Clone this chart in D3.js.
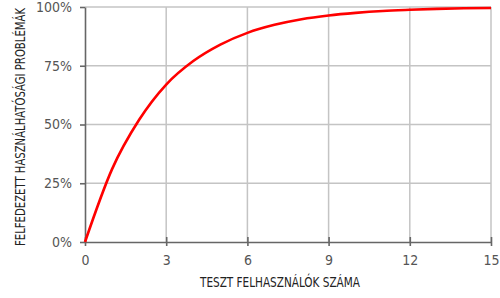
<!DOCTYPE html>
<html>
<head>
<meta charset="utf-8">
<script src="https://cdn.jsdelivr.net/npm/d3@7"></script>
<style>
  html, body { margin: 0; padding: 0; background: #fff; }
  svg { display: block; }
  .lbl { font-family: "Liberation Sans Narrow", "DejaVu Sans Condensed", "Arial Narrow", sans-serif; }
</style>
</head>
<body>
<svg id="chart" width="500" height="298"></svg>
<script>
const users = [0, 1, 2, 3, 4, 5, 6, 7, 8, 9, 10, 11, 12, 13, 14, 15]
const found = [0, 31, 52, 67, 77, 84, 89, 92.4, 94.8, 96.4, 97.5, 98.3, 98.8, 99.2, 99.45, 99.6]
const xTicks = [0, 3, 6, 9, 12, 15]
const yTicks = [0, 25, 50, 75, 100]
const xTitle = "TESZT FELHASZNÁLÓK SZÁMA"
const yTitle = "FELFEDEZETT HASZNÁLHATÓSÁGI PROBLÉMÁK"

const svg = d3.select("#chart")
const margin = { top: 7, right: 9, bottom: 56, left: 85 }
const width = 500 - margin.left - margin.right
const height = 298 - margin.top - margin.bottom

const x = d3.scaleLinear().domain([0, 15]).range([0, width])
const y = d3.scaleLinear().domain([0, 100]).range([height, 0])

const g = svg.append("g").attr("transform", `translate(${margin.left},${margin.top})`)

// grid
const grid = g.append("g").attr("class", "grid")
grid.selectAll("line.vx")
  .data(xTicks.slice(1))
  .join("line")
  .attr("class", "vx")
  .attr("x1", (d) => x(d)).attr("x2", (d) => x(d))
  .attr("y1", 0).attr("y2", height)
  .attr("stroke", "#c4c4c4").attr("stroke-width", 1.5)

grid.selectAll("line.hy")
  .data(yTicks.slice(1))
  .join("line")
  .attr("class", "hy")
  .attr("x1", 0).attr("x2", width)
  .attr("y1", (d) => y(d)).attr("y2", (d) => y(d))
  .attr("stroke", "#c4c4c4").attr("stroke-width", 1.5)

// axes
const xAxis = g.append("g")
  .attr("transform", `translate(0,${height})`)
  .call(d3.axisBottom(x).tickValues(xTicks).tickSize(4).tickPadding(9).tickSizeOuter(0))
xAxis.select(".domain").attr("stroke", "#666").attr("stroke-width", 1.6)
xAxis.selectAll(".tick line").attr("stroke", "#666").attr("stroke-width", 1.6).attr("y1", -5)
xAxis.selectAll("text")
  .attr("class", "lbl").attr("fill", "#555").style("font-size", "14px")

const yAxis = g.append("g")
  .call(d3.axisLeft(y).tickValues(yTicks).tickSize(5).tickPadding(8).tickSizeOuter(0).tickFormat((d) => d + "%"))
yAxis.select(".domain").attr("stroke", "#666").attr("stroke-width", 1.6)
yAxis.selectAll(".tick line").attr("stroke", "#666").attr("stroke-width", 1.6)
yAxis.selectAll("text")
  .attr("class", "lbl").attr("fill", "#555").style("font-size", "14px")

// curve
const line = d3.line()
  .x((d, i) => x(users[i]))
  .y((d) => y(d))
  .curve(d3.curveMonotoneX)

g.append("path")
  .datum(found)
  .attr("d", line)
  .attr("fill", "none")
  .attr("stroke", "#ff0000")
  .attr("stroke-width", 2.6)
  .attr("stroke-linejoin", "round")

// titles
svg.append("text")
  .attr("class", "lbl")
  .attr("x", 280).attr("y", 287)
  .attr("text-anchor", "middle")
  .attr("fill", "#222")
  .style("font-size", "14px")
  .attr("textLength", 160)
  .attr("lengthAdjust", "spacingAndGlyphs")
  .text(xTitle)

svg.append("text")
  .attr("class", "lbl")
  .attr("transform", "translate(25,127) rotate(-90)")
  .attr("text-anchor", "middle")
  .attr("fill", "#222")
  .style("font-size", "13.5px")
  .attr("textLength", 238)
  .attr("lengthAdjust", "spacingAndGlyphs")
  .text(yTitle)
</script>
</body>
</html>
